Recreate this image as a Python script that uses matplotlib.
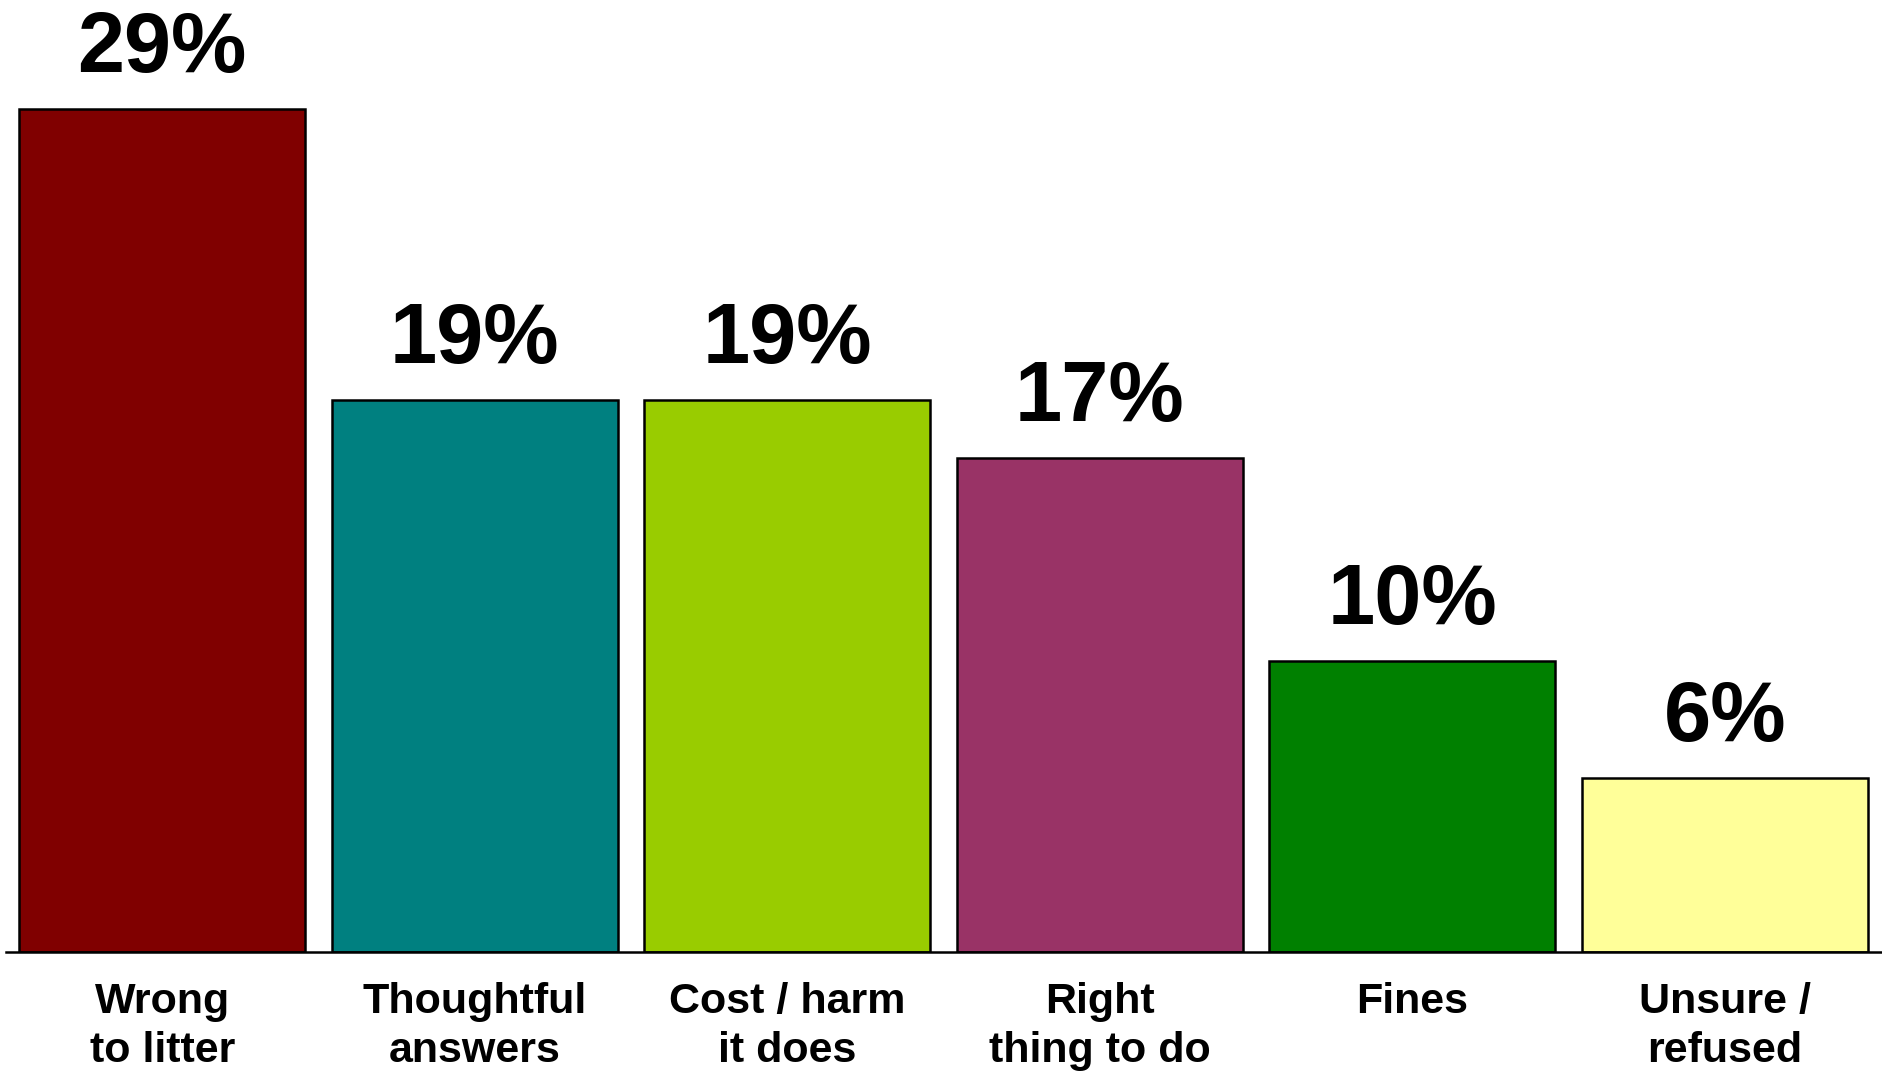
import matplotlib
matplotlib.use("Agg")
import matplotlib.pyplot as plt
import matplotlib.transforms as mtransforms

# data
categories = ["Wrong\nto litter", "Thoughtful\nanswers", "Cost / harm\nit does",
              "Right\nthing to do", "Fines", "Unsure /\nrefused"]
values = [29, 19, 19, 17, 10, 6]
colors = ["#800000", "#008080", "#99CC00", "#993366", "#008000", "#FFFF99"]

plt.rcParams['font.family'] = ['Liberation Sans', 'DejaVu Sans']

W, H, DPI = 1883, 1071, 100
fig = plt.figure(figsize=(W / DPI, H / DPI), dpi=DPI)
# axes spans from the baseline (y=952px) to the top edge
ax = fig.add_axes([6 / W, (H - 952) / H, 1875 / W, 952 / H])

x = list(range(len(values)))
ax.bar(x, values, width=0.915, color=colors, edgecolor='black', linewidth=1.8)
ax.set_xlim(-0.5, 5.5)
ax.set_ylim(0, 952 / 29.07)

# percentage labels above bars
for xi, v in zip(x, values):
    ax.annotate(f"{v}%", (xi, v), xytext=(0, 26.5), textcoords='offset points',
                ha='center', va='baseline', fontsize=61, fontweight='bold')

# category labels under the axis
trans = mtransforms.blended_transform_factory(ax.transData, ax.transAxes)
for xi, lab in zip(x, categories):
    ax.text(xi, -0.031, lab, transform=trans, ha='center', va='top',
            fontsize=31, fontweight='bold', linespacing=1.3, clip_on=False)

for s in ['top', 'right', 'left']:
    ax.spines[s].set_visible(False)
ax.spines['bottom'].set_linewidth(1.8)
ax.set_xticks([])
ax.set_yticks([])

fig.savefig("out.png", dpi=DPI)
